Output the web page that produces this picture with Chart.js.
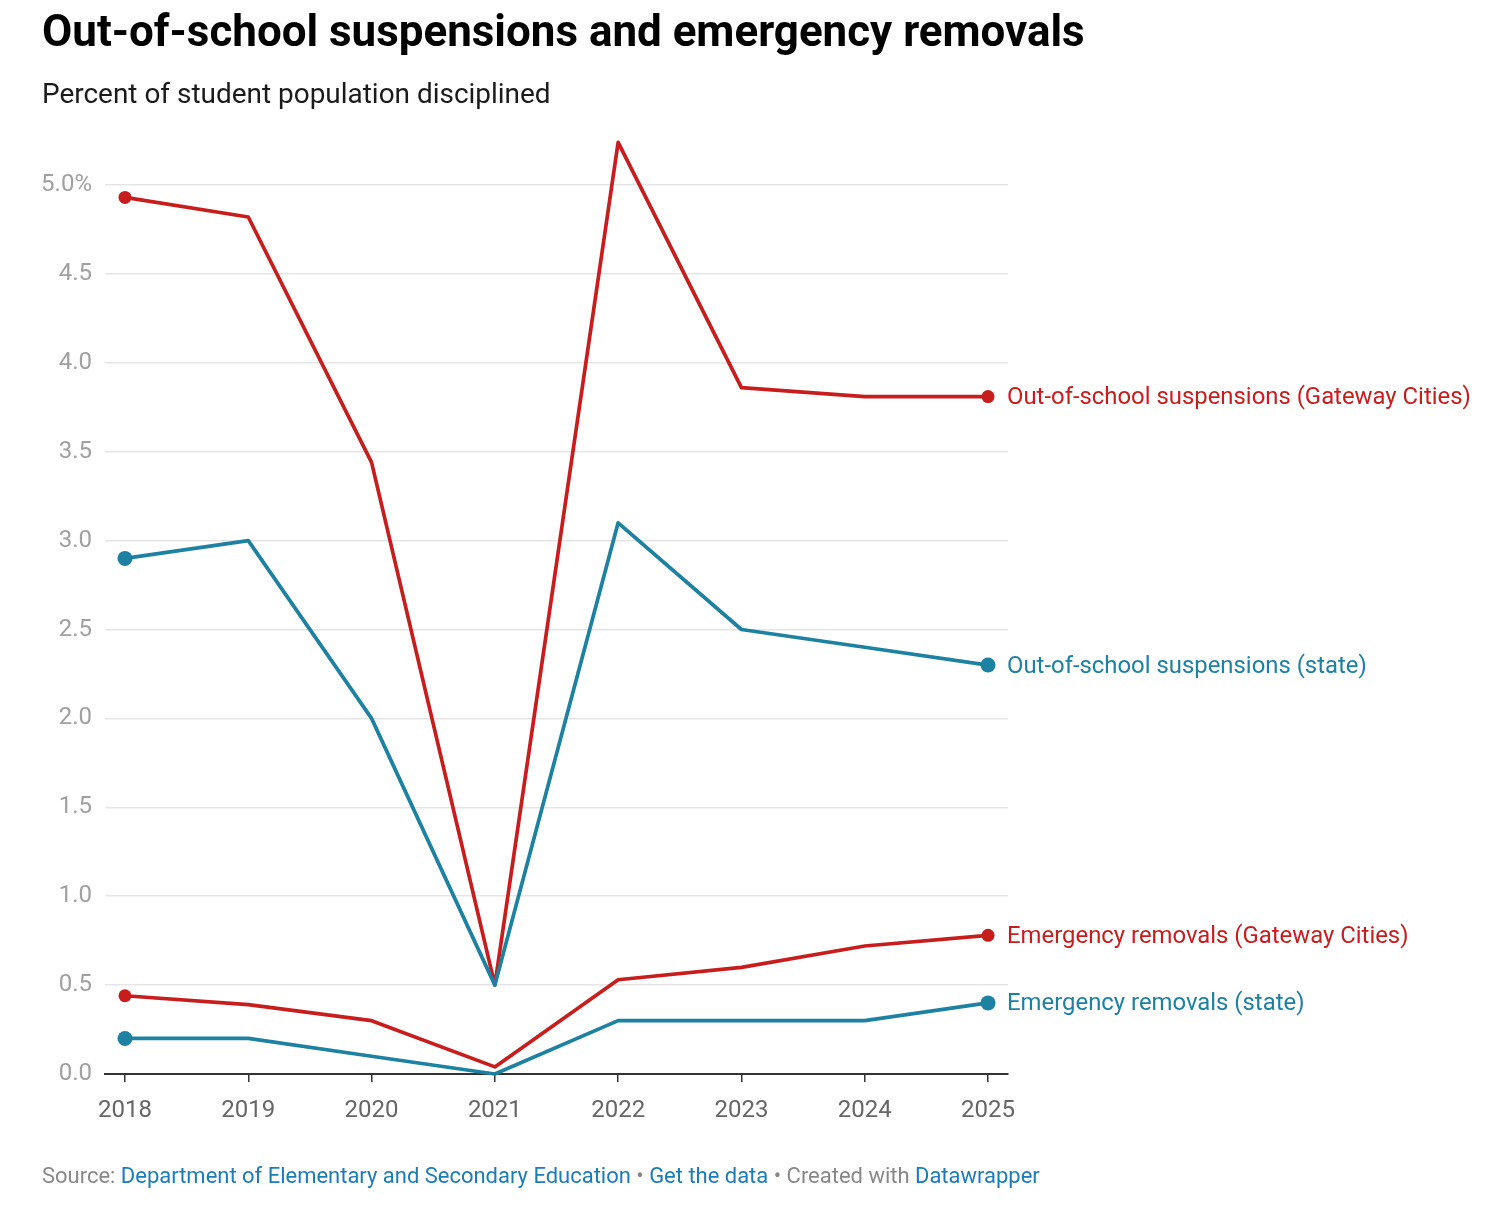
<!DOCTYPE html>
<html><head><meta charset="utf-8">
<script src="https://cdn.jsdelivr.net/npm/chart.js@4.4.1/dist/chart.umd.min.js"></script>
<style>
html,body{margin:0;padding:0;background:#fff;width:1504px;height:1210px;overflow:hidden;font-family:Roboto,sans-serif;}
.t{position:absolute;left:42px;line-height:1;white-space:nowrap;}
#title{font-weight:700;font-size:46px;color:#000;}
#subtitle{font-size:24px;color:#1a1a1a;}
#footer{font-size:21px;color:#888;}
#footer a{color:#1a7cb9;text-decoration:none;}
canvas{position:absolute;left:0;top:0;}
</style></head><body>
<canvas id="c" width="1504" height="1210"></canvas>
<div id="title" class="t">Out-of-school suspensions and emergency removals</div>
<div id="subtitle" class="t">Percent of student population disciplined</div>
<div id="footer" class="t">Source: <a>Department of Elementary and Secondary Education</a> • <a>Get the data</a> • Created with <a>Datawrapper</a></div>
<script>
// ---- data ----
const years = [2018, 2019, 2020, 2021, 2022, 2023, 2024, 2025];
const ossGateway = [4.93, 4.82, 3.44, 0.50, 5.24, 3.86, 3.81, 3.81];
const ossState   = [2.9, 3.0, 2.0, 0.5, 3.1, 2.5, 2.4, 2.3];
const erGateway  = [0.44, 0.39, 0.30, 0.04, 0.53, 0.60, 0.72, 0.78];
const erState    = [0.2, 0.2, 0.1, 0.0, 0.3, 0.3, 0.3, 0.4];
const yTicks = [0, 0.5, 1.0, 1.5, 2.0, 2.5, 3.0, 3.5, 4.0, 4.5, 5.0];
const seriesLabels = [
  "Out-of-school suspensions (state)",
  "Emergency removals (state)",
  "Out-of-school suspensions (Gateway Cities)",
  "Emergency removals (Gateway Cities)"
];

const RED = '#c71e1d', BLUE = '#1d81a2';

// ---- text fitting / placement ----
function place(id, targetW, baseline){
  const el = document.getElementById(id);
  const fs0 = parseFloat(getComputedStyle(el).fontSize);
  const w = el.getBoundingClientRect().width;
  const fs = fs0 * targetW / w;
  el.style.fontSize = fs + 'px';
  el.style.top = (baseline - 0.842 * fs) + 'px';
}
place('title', 1043, 47);
place('subtitle', 509, 103.5);
place('footer', 998, 1184);

const mctx = document.createElement('canvas').getContext('2d');
mctx.font = '100px Roboto';
const labelSize = 100 * 464 / mctx.measureText(seriesLabels[2]).width;

function pts(arr){ return years.map((y, i) => ({x: y, y: arr[i]})); }
function ends(r){ return years.map((y, i) => (i === 0 || i === years.length - 1) ? r : 0); }

function ds(label, arr, color, r){
  return {
    label, data: pts(arr), borderColor: color, backgroundColor: color,
    borderWidth: 3.7, pointRadius: ends(r), pointHoverRadius: 0,
    pointBorderWidth: 0, borderJoinStyle: 'round', borderCapStyle: 'round',
    tension: 0, fill: false, clip: false
  };
}

const endLabels = {
  id: 'endLabels',
  afterDatasetsDraw(chart){
    const ctx = chart.ctx;
    ctx.save();
    ctx.font = labelSize + 'px Roboto';
    ctx.textBaseline = 'middle';
    ctx.textAlign = 'left';
    chart.data.datasets.forEach((d, i) => {
      const meta = chart.getDatasetMeta(i);
      const p = meta.data[meta.data.length - 1];
      ctx.fillStyle = d.borderColor;
      ctx.fillText(d.label, p.x + 19, p.y + 1.5);
    });
    ctx.restore();
  }
};

Chart.defaults.font.family = 'Roboto';

new Chart(document.getElementById('c'), {
  type: 'line',
  data: {
    datasets: [
      ds(seriesLabels[0], ossState, BLUE, 7.5),
      ds(seriesLabels[1], erState, BLUE, 7.5),
      ds(seriesLabels[2], ossGateway, RED, 6.5),
      ds(seriesLabels[3], erGateway, RED, 6.5)
    ]
  },
  options: {
    responsive: false, animation: false, events: [],
    layout: { padding: { left: 5, right: 496, top: 131.66, bottom: 76 } },
    plugins: { legend: { display: false }, tooltip: { enabled: false } },
    scales: {
      x: {
        type: 'linear', min: 2017.838, max: 2025.162,
        afterBuildTicks: s => { s.ticks = years.map(v => ({value: v})); },
        afterFit: s => { s.height = 60; },
        ticks: { color: '#666', font: { size: 24 }, padding: 15, maxRotation: 0, callback: v => String(v) },
        grid: { drawOnChartArea: false, drawTicks: true, tickLength: 8, color: '#333', lineWidth: 1.5 },
        border: { display: true, color: '#333', width: 2 }
      },
      y: {
        min: 0, max: 5.3,
        afterBuildTicks: s => { s.ticks = yTicks.map(v => ({value: v})); },
        afterFit: s => { s.width = 100; },
        ticks: { color: '#a0a0a0', font: { size: 24 }, padding: 13,
                 callback: v => v === 5 ? '5.0%' : v.toFixed(1) },
        grid: { drawTicks: false, color: '#e5e5e5', lineWidth: 1.5 },
        border: { display: false }
      }
    }
  },
  plugins: [endLabels]
});
</script>
</body></html>
